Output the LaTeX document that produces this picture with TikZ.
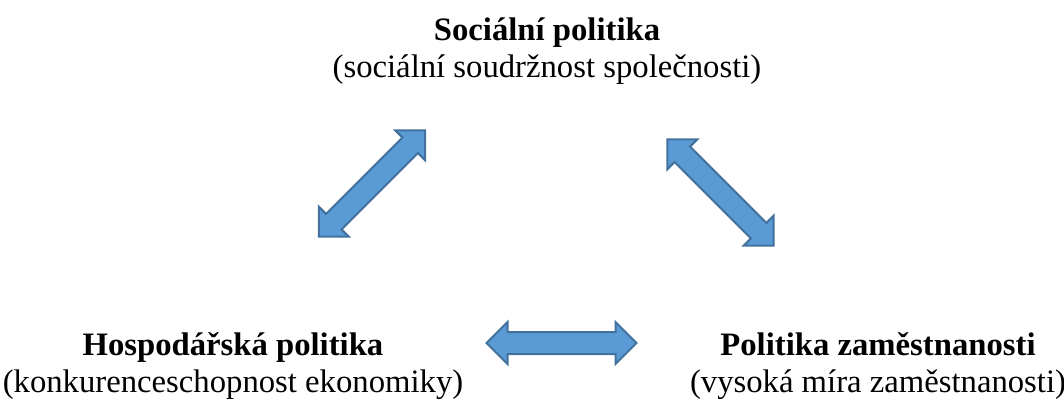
\documentclass[tikz,border=0pt]{standalone}
\usepackage{fontspec}
\setmainfont{Liberation Serif}
\usetikzlibrary{shapes.arrows}
\definecolor{arrowfill}{HTML}{5B9BD5}
\definecolor{arrowline}{HTML}{41719C}

\begin{document}
\begin{tikzpicture}[x=1pt,y=-1pt,
	polbox/.style={align=center,inner sep=0pt,font=\fontsize{32.7}{37}\selectfont},
	blokarrow/.style={double arrow,draw=arrowline,fill=arrowfill,line width=2pt,
		double arrow tip angle=90,double arrow head extend=10pt,
		minimum height=150pt,inner xsep=0pt,inner ysep=10pt}]
	\useasboundingbox (0,0) rectangle (1064,400);
	\node[polbox,anchor=base] (social) at (547,77) {\textbf{Sociální politika}\\(sociální soudržnost společnosti)};
	\node[polbox,anchor=base] (hosp) at (233,392) {\textbf{Hospodářská politika}\\(konkurenceschopnost ekonomiky)};
	\node[polbox,anchor=base] (zam) at (878,392) {\textbf{Politika zaměstnanosti}\\(vysoká míra zaměstnanosti)};
	\node[blokarrow,rotate=45] (socHosp) at (372,183.5) {};
	\node[blokarrow,rotate=-45] (socZam) at (720.5,192.5) {};
	\node[blokarrow] (hospZam) at (561.5,343) {};
\end{tikzpicture}
\end{document}
